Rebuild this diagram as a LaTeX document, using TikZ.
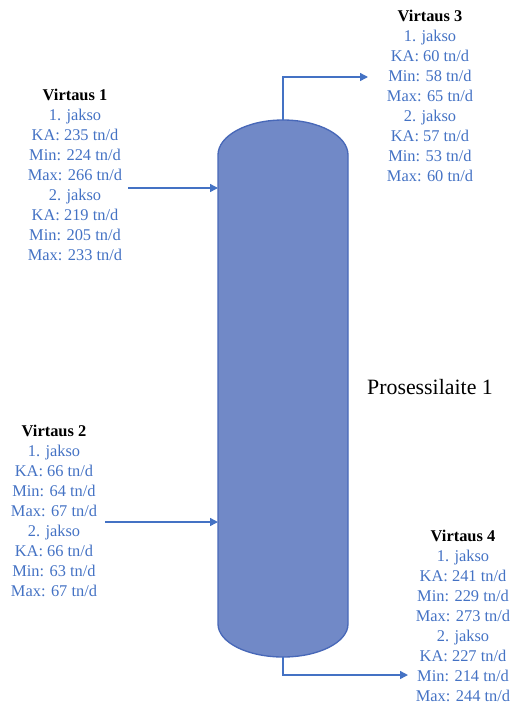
\documentclass[tikz,border=0pt]{standalone}
\usepackage{fontspec}
\setmainfont{Liberation Serif}
\usetikzlibrary{arrows.meta}

\definecolor{flowblue}{RGB}{68,114,196}
\definecolor{vesselfill}{RGB}{113,137,199}
\definecolor{vesseledge}{RGB}{72,104,184}

\tikzset{
	flowtext/.style={align=center,inner sep=0.75pt,font=\fontsize{12.3}{15}\selectfont,text=flowblue},
	flowline/.style={draw=flowblue,line width=1.1pt,-{Triangle[length=6pt,width=6pt]}},
}

\begin{document}
\begin{tikzpicture}[x=0.75pt,y=0.75pt,yscale=-1,xscale=1]
	\useasboundingbox (0,0) rectangle (511,704);
	% vessel
	\draw [draw=vesseledge,fill=vesselfill,line width=1pt] (218,155) arc [start angle=180,end angle=360,x radius=65,y radius=35] -- (348,624) arc [start angle=0,end angle=180,x radius=65,y radius=33] -- cycle ;
	\coordinate (vtop) at (283,120);
	\coordinate (vbot) at (283,657);
	\coordinate (in1) at (218,188);
	\coordinate (in2) at (218,522);
	\coordinate (out3) at (368,77);
	\coordinate (out4) at (408,675);
	\coordinate (src1) at (128,188);
	\coordinate (src2) at (105,522);
	% flows
	\draw [flowline] (src1) -- (in1) ;
	\draw [flowline] (src2) -- (in2) ;
	\draw [flowline] (vtop) |- (out3) ;
	\draw [flowline] (vbot) |- (out4) ;
	% labels
	\node (virtaus1) [flowtext] at (75,175) {\textcolor{black}{\textbf{Virtaus 1}}\\1. jakso\\KA: 235 tn/d\\Min: 224 tn/d\\Max: 266 tn/d\\2. jakso\\KA: 219 tn/d\\Min: 205 tn/d\\Max: 233 tn/d};
	\node (virtaus2) [flowtext] at (54,511) {\textcolor{black}{\textbf{Virtaus 2}}\\1. jakso\\KA: 66 tn/d\\Min: 64 tn/d\\Max: 67 tn/d\\2. jakso\\KA: 66 tn/d\\Min: 63 tn/d\\Max: 67 tn/d};
	\node (virtaus3) [flowtext] at (430,96) {\textcolor{black}{\textbf{Virtaus 3}}\\1. jakso\\KA: 60 tn/d\\Min: 58 tn/d\\Max: 65 tn/d\\2. jakso\\KA: 57 tn/d\\Min: 53 tn/d\\Max: 60 tn/d};
	\node (virtaus4) [flowtext] at (463,616) {\textcolor{black}{\textbf{Virtaus 4}}\\1. jakso\\KA: 241 tn/d\\Min: 229 tn/d\\Max: 273 tn/d\\2. jakso\\KA: 227 tn/d\\Min: 214 tn/d\\Max: 244 tn/d};
	\node (laite) [inner sep=0.75pt,font=\fontsize{16.4}{20}\selectfont] at (430,387) {Prosessilaite 1};
\end{tikzpicture}
\end{document}
